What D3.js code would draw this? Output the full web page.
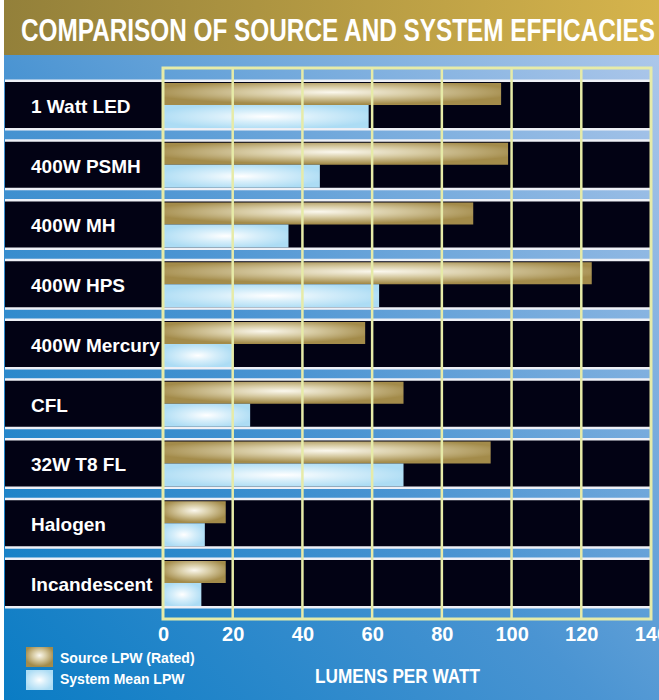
<!DOCTYPE html>
<html>
<head>
<meta charset="utf-8">
<script src="https://cdn.jsdelivr.net/npm/d3@7"></script>
<style>
  html, body { margin: 0; padding: 0; background: #fff; }
  svg { display: block; }
  text { font-family: "Liberation Sans", Arial, "Helvetica", sans-serif; font-weight: bold; fill: #fff; }
</style>
</head>
<body>
<svg id="chart" width="659" height="700"></svg>
<script>
// lamp types, top to bottom
const lamps = ['1 Watt LED', '400W PSMH', '400W MH', '400W HPS', '400W Mercury', 'CFL', '32W T8 FL', 'Halogen', 'Incandescent'];
// source lumens per watt (rated)
const sourceLPW = [97, 99, 89, 123, 58, 69, 94, 18, 18];
// system mean lumens per watt
const systemLPW = [59, 45, 36, 62, 20, 25, 69, 12, 11];
const xTicks = [0, 20, 40, 60, 80, 100, 120, 140];
const legendLabels = ['Source LPW (Rated)', 'System Mean LPW'];

const width = 659, height = 700;
const svg = d3.select('#chart');
const defs = svg.append('defs');

// background gradients
const bg = defs.append('linearGradient').attr('id', 'bg')
  .attr('x1', '0').attr('y1', '1').attr('x2', '1').attr('y2', '0');
bg.append('stop').attr('offset', '0').attr('stop-color', '#0a7cc4');
bg.append('stop').attr('offset', '0.45').attr('stop-color', '#4a94d2');
bg.append('stop').attr('offset', '1').attr('stop-color', '#b4cbec');

const gold = defs.append('linearGradient').attr('id', 'titleBg')
  .attr('x1', '0').attr('y1', '0').attr('x2', '1').attr('y2', '0');
gold.append('stop').attr('offset', '0').attr('stop-color', '#93803a');
gold.append('stop').attr('offset', '1').attr('stop-color', '#d6b44c');

// bar fills: stretched radial highlights
const srcGrad = defs.append('radialGradient').attr('id', 'srcGrad')
  .attr('cx', '0.5').attr('cy', '0.42').attr('r', '0.55');
srcGrad.append('stop').attr('offset', '0').attr('stop-color', '#fbf8ee');
srcGrad.append('stop').attr('offset', '0.45').attr('stop-color', '#d7cba3');
srcGrad.append('stop').attr('offset', '1').attr('stop-color', '#a38b4a');

const sysGrad = defs.append('radialGradient').attr('id', 'sysGrad')
  .attr('cx', '0.5').attr('cy', '0.5').attr('r', '0.55');
sysGrad.append('stop').attr('offset', '0').attr('stop-color', '#ffffff');
sysGrad.append('stop').attr('offset', '0.45').attr('stop-color', '#d6eefa');
sysGrad.append('stop').attr('offset', '1').attr('stop-color', '#acdcf4');

svg.append('rect').attr('x', 4).attr('y', 0).attr('width', width - 4).attr('height', height)
  .attr('fill', 'url(#bg)');
svg.append('rect').attr('x', 4).attr('y', 0).attr('width', width - 4).attr('height', 55)
  .attr('fill', 'url(#titleBg)');

svg.append('text')
  .attr('x', 21).attr('y', 41)
  .attr('font-size', 31)
  .attr('textLength', 634).attr('lengthAdjust', 'spacingAndGlyphs')
  .text('COMPARISON OF SOURCE AND SYSTEM EFFICACIES');

// scales
const x = d3.scaleLinear().domain([0, 140]).range([163, 651]);
const y = d3.scaleBand().domain(lamps).range([82, 606]).paddingInner(0.23).paddingOuter(0);
const frameTop = 68, frameBottom = 619;

// rows
const rows = svg.append('g').selectAll('g').data(lamps).join('g')
  .attr('transform', d => `translate(0,${y(d)})`);

rows.append('rect')
  .attr('x', 5).attr('y', -2.5).attr('width', x(140) - 5).attr('height', y.bandwidth() + 5)
  .attr('fill', '#eef0f6');
rows.append('rect')
  .attr('x', 5).attr('y', 0).attr('width', x(140) - 5).attr('height', y.bandwidth())
  .attr('fill', '#020214');

rows.append('text')
  .attr('x', 31).attr('y', y.bandwidth() / 2 + 8)
  .attr('font-size', 19)
  .text(d => d);

const half = y.bandwidth() / 2;
rows.append('rect')
  .attr('x', x(0)).attr('y', 1)
  .attr('width', (d, i) => x(sourceLPW[i]) - x(0)).attr('height', half - 1)
  .attr('fill', 'url(#srcGrad)');
rows.append('rect')
  .attr('x', x(0)).attr('y', half)
  .attr('width', (d, i) => x(systemLPW[i]) - x(0)).attr('height', half)
  .attr('fill', 'url(#sysGrad)');

// grid + frame
const gridColor = '#e6eba8';
svg.append('g').selectAll('line').data(xTicks.slice(1, -1)).join('line')
  .attr('x1', d => x(d)).attr('x2', d => x(d))
  .attr('y1', frameTop).attr('y2', frameBottom)
  .attr('stroke', gridColor).attr('stroke-width', 2.5);
svg.append('rect')
  .attr('x', x(0)).attr('y', frameTop)
  .attr('width', x(140) - x(0)).attr('height', frameBottom - frameTop)
  .attr('fill', 'none').attr('stroke', gridColor).attr('stroke-width', 3);

// x axis (the last label runs off the right edge, as in the original)
const axis = svg.append('g')
  .attr('transform', `translate(0,${frameBottom})`)
  .call(d3.axisBottom(x).tickValues(xTicks).tickSize(0).tickPadding(8));
axis.select('.domain').remove();
axis.attr('font-family', null).attr('font-size', null);
axis.selectAll('text')
  .attr('fill', null)
  .attr('font-size', 20);

svg.append('text')
  .attr('x', 315).attr('y', 683)
  .attr('font-size', 19.5)
  .attr('textLength', 165).attr('lengthAdjust', 'spacingAndGlyphs')
  .text('LUMENS PER WATT');

// legend
const legend = svg.append('g').selectAll('g').data(legendLabels).join('g')
  .attr('transform', (d, i) => `translate(26,${647 + i * 23})`);
legend.append('rect')
  .attr('width', 27).attr('height', 20)
  .attr('fill', (d, i) => i === 0 ? 'url(#srcGrad)' : 'url(#sysGrad)');
legend.append('text')
  .attr('x', 34).attr('y', (d, i) => i === 0 ? 16 : 14)
  .attr('font-size', 14)
  .text(d => d);
</script>
</body>
</html>
